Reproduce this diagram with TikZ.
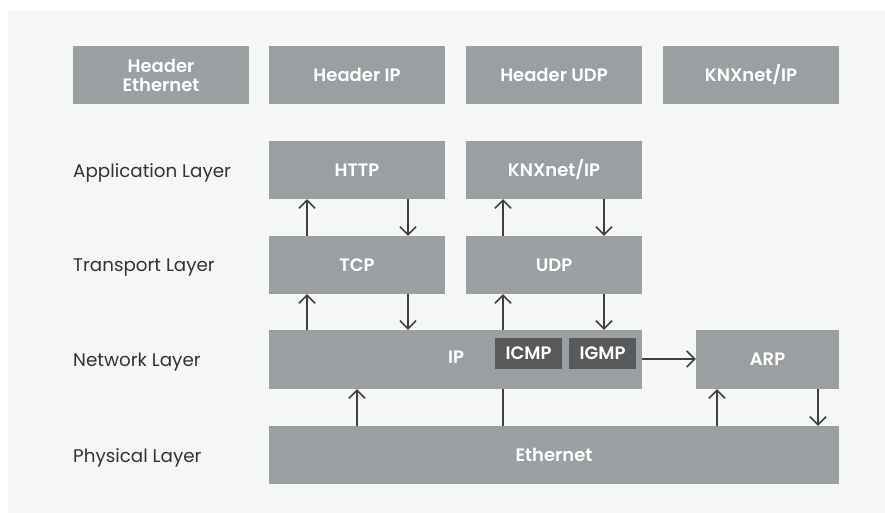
\documentclass[tikz,border=0pt]{standalone}
\usepackage{fontspec}
\setmainfont{Poppins}[BoldFont={Poppins SemiBold}]
\usetikzlibrary{arrows.meta}
\definecolor{panel}{HTML}{F5F6F6}
\definecolor{boxgray}{HTML}{9B9FA1}
\definecolor{darkbox}{HTML}{58595B}
\definecolor{labeltext}{HTML}{333335}
\definecolor{arrowc}{HTML}{404040}
\tikzset{
  box/.style={fill=boxgray, draw=none, text=white, font=\fontsize{18}{20}\selectfont\bfseries, align=center, inner sep=0pt},
  darkbox/.style={fill=darkbox, draw=none, text=white, font=\fontsize{18}{20}\selectfont\bfseries, inner sep=0pt},
  layerlabel/.style={text=labeltext, font=\fontsize{18.3}{20}\selectfont, anchor=west, inner sep=0pt},
  conn/.style={draw=arrowc, line width=1.8pt, -{Straight Barb[length=8pt,width=16pt,line width=1.6pt]}},
  plainconn/.style={draw=arrowc, line width=1.8pt}
}
\begin{document}
\begin{tikzpicture}[x=1pt,y=-1pt]
\useasboundingbox (0,0) rectangle (885,513);
\fill[white] (0,0) rectangle (885,513);
\fill[panel] (8,10) rectangle (885,513);

% header row
\node[box, minimum width=176pt, minimum height=58pt] (hEth) at (161,75) {Header\\[-1pt]Ethernet};
\node[box, minimum width=176pt, minimum height=58pt] (hIP) at (357,75) {Header IP};
\node[box, minimum width=176pt, minimum height=58pt] (hUDP) at (554,75) {Header UDP};
\node[box, minimum width=176pt, minimum height=58pt] (hKNX) at (751,75) {KNXnet/IP};

% layer labels
\node[layerlabel] (lApp) at (73,172.5) {Application Layer};
\node[layerlabel] (lTra) at (73,267.5) {Transport Layer};
\node[layerlabel] (lNet) at (73,362.5) {Network Layer};
\node[layerlabel] (lPhy) at (73,457.5) {Physical Layer};

% protocol boxes
\node[box, minimum width=176pt, minimum height=58pt] (http) at (357,170) {HTTP};
\node[box, minimum width=176pt, minimum height=58pt] (knx) at (554,170) {KNXnet/IP};
\node[box, minimum width=176pt, minimum height=58pt] (tcp) at (357,265) {TCP};
\node[box, minimum width=176pt, minimum height=58pt] (udp) at (554,265) {UDP};
\node[box, minimum width=373pt, minimum height=59pt] (ip) at (455.5,359.5) {};
\node[text=white, font=\fontsize{18}{20}\selectfont\bfseries, inner sep=0pt] (iplabel) at (456,357) {IP};
\node[darkbox, minimum width=67pt, minimum height=31pt] (icmp) at (528.5,353.5) {ICMP};
\node[darkbox, minimum width=67pt, minimum height=31pt] (igmp) at (602.5,353.5) {IGMP};
\node[box, minimum width=143pt, minimum height=59pt] (arp) at (767.5,359.5) {ARP};
\node[box, minimum width=570pt, minimum height=58pt] (eth) at (554,455) {Ethernet};

% connectors HTTP <-> TCP
\draw[conn] (tcp.north -| 307,0) -- (http.south -| 307,0);
\draw[conn] (http.south -| 408,0) -- (tcp.north -| 408,0);
% KNX <-> UDP
\draw[conn] (udp.north -| 503,0) -- (knx.south -| 503,0);
\draw[conn] (knx.south -| 604,0) -- (udp.north -| 604,0);
% TCP <-> IP
\draw[conn] (ip.north -| 307,0) -- (tcp.south -| 307,0);
\draw[conn] (tcp.south -| 408,0) -- (ip.north -| 408,0);
% UDP <-> IP
\draw[conn] (ip.north -| 503,0) -- (udp.south -| 503,0);
\draw[conn] (udp.south -| 604,0) -- (ip.north -| 604,0);
% IP <-> Ethernet
\draw[conn] (eth.north -| 357,0) -- (ip.south -| 357,0);
\draw[plainconn] (ip.south -| 503,0) -- (eth.north -| 503,0);
% IP -> ARP
\draw[conn] (ip.east |- 0,359) -- (arp.west |- 0,359);
% Ethernet <-> ARP
\draw[conn] (eth.north -| 717,0) -- (arp.south -| 717,0);
\draw[conn] (arp.south -| 818,0) -- (eth.north -| 818,0);
\end{tikzpicture}
\end{document}
